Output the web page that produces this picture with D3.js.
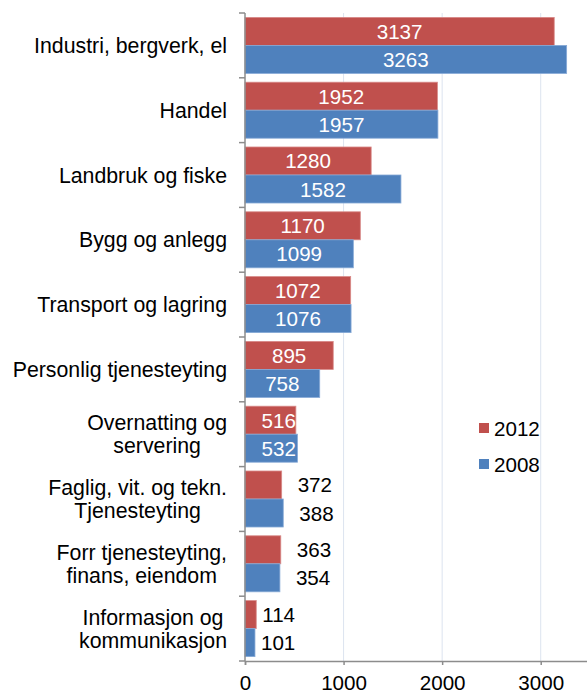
<!DOCTYPE html>
<html>
<head>
<meta charset="utf-8">
<script src="https://cdn.jsdelivr.net/npm/d3@7"></script>
<style>
  body { margin: 0; background: #fff; }
  text { font-family: "Liberation Sans", Arial, sans-serif; }
</style>
</head>
<body>
<div id="chart"></div>
<script>
// categories (top to bottom), each split into display lines
var categories = [
    ["Industri, bergverk, el"],
    ["Handel"],
    ["Landbruk og fiske"],
    ["Bygg og anlegg"],
    ["Transport og lagring"],
    ["Personlig tjenesteyting"],
    ["Overnatting og", "servering"],
    ["Faglig, vit. og tekn.", "Tjenesteyting"],
    ["Forr tjenesteyting,", "finans, eiendom"],
    ["Informasjon og", "kommunikasjon"]
];
var values2012 = [3137, 1952, 1280, 1170, 1072, 895, 516, 372, 363, 114];
var values2008 = [3263, 1957, 1582, 1099, 1076, 758, 532, 388, 354, 101];
var seriesNames = ["2012", "2008"];
var xTicks = [0, 1000, 2000, 3000];

var width = 587, height = 698;
var colors = {"2012": "#C0504D", "2008": "#4F81BD"};
var strokes = {"2012": "#D88A88", "2008": "#86A9D6"};
var fontSize = 20.6;

var svg = d3.select("#chart").append("svg")
    .attr("width", width)
    .attr("height", height);

var keys = categories.map(function(d, i) { return "c" + i; });

var x = d3.scaleLinear().domain([0, 3500]).range([245, 590]);
var y = d3.scaleBand().domain(keys).range([13, 661]);
var ySub = d3.scaleBand().domain(seriesNames).range([0, y.bandwidth()]).paddingOuter(0.157);

var data = [];
keys.forEach(function(k, i) {
    data.push({key: k, series: "2012", value: values2012[i]});
    data.push({key: k, series: "2008", value: values2008[i]});
});

// gridlines
svg.append("g").selectAll("line")
    .data(xTicks.slice(1))
    .enter().append("line")
    .attr("x1", function(d) { return x(d); })
    .attr("x2", function(d) { return x(d); })
    .attr("y1", 13)
    .attr("y2", 661)
    .attr("stroke", "#DCE4EF")
    .attr("stroke-width", 1);

// bars
svg.append("g").selectAll("rect")
    .data(data)
    .enter().append("rect")
    .attr("x", x(0))
    .attr("y", function(d) { return y(d.key) + ySub(d.series); })
    .attr("width", function(d) { return x(d.value) - x(0); })
    .attr("height", ySub.bandwidth())
    .attr("fill", function(d) { return colors[d.series]; })
    .attr("stroke", function(d) { return strokes[d.series]; })
    .attr("stroke-width", 0.8);

// value labels
var labels = svg.append("g").selectAll("text")
    .data(data)
    .enter().append("text")
    .attr("y", function(d) { return y(d.key) + ySub(d.series) + ySub.bandwidth() / 2 + 7.5; })
    .attr("font-size", fontSize)
    .text(function(d) { return d.value; });

labels.each(function(d) {
    var t = d3.select(this);
    var w = this.getComputedTextLength();
    var barW = x(d.value) - x(0);
    if (barW < w + 16) {
        var gap = d.value < 200 ? 6 : 16;
        t.attr("x", x(d.value) + gap).attr("text-anchor", "start").attr("fill", "#000");
    } else {
        var cx = Math.max(x(0) + barW / 2, x(0) + w / 2 + 16.5);
        t.attr("x", cx).attr("text-anchor", "middle").attr("fill", "#fff");
    }
});

// y axis line and ticks
var axisColor = "#8C8C8C";
svg.append("line")
    .attr("x1", x(0)).attr("x2", x(0))
    .attr("y1", 13).attr("y2", 661)
    .attr("stroke", axisColor).attr("stroke-width", 1.5);

svg.append("g").selectAll("line")
    .data(keys.map(function(k) { return y(k); }).concat([661]))
    .enter().append("line")
    .attr("x1", x(0) - 6).attr("x2", x(0))
    .attr("y1", function(d) { return d; })
    .attr("y2", function(d) { return d; })
    .attr("stroke", axisColor).attr("stroke-width", 1.5);

// x axis
var xAxis = svg.append("g")
    .attr("transform", "translate(0,661)")
    .call(d3.axisBottom(x).tickValues(xTicks).tickSize(4).tickPadding(10).tickFormat(d3.format("d")));
xAxis.select(".domain").attr("stroke", axisColor).attr("stroke-width", 1.5);
xAxis.selectAll(".tick line").attr("stroke", axisColor).attr("stroke-width", 1.5);
xAxis.selectAll(".tick text")
    .attr("font-size", fontSize)
    .attr("font-family", "Liberation Sans, Arial, sans-serif")
    .attr("fill", "#000")
    .attr("dy", "0.71em");

// category labels, lines centred on each other, block right-aligned
var catG = svg.append("g");
categories.forEach(function(lines, i) {
    var cy = y(keys[i]) + y.bandwidth() / 2 + 7.5;
    var lh = 22.8;
    var g = catG.append("g");
    var texts = lines.map(function(line, j) {
        return g.append("text")
            .attr("font-size", 21.3)
            .attr("fill", "#000")
            .attr("y", cy + (j - (lines.length - 1) / 2) * lh)
            .attr("text-anchor", "middle")
            .text(line);
    });
    var maxW = d3.max(texts, function(t) { return t.node().getComputedTextLength(); });
    texts.forEach(function(t) { t.attr("x", 227 - maxW / 2); });
});

// legend
var legend = svg.append("g");
seriesNames.forEach(function(s, i) {
    var ly = 423 + i * 36;
    legend.append("rect")
        .attr("x", 479).attr("y", ly)
        .attr("width", 10).attr("height", 10)
        .attr("fill", colors[s]);
    legend.append("text")
        .attr("x", 494).attr("y", ly + 12.5)
        .attr("font-size", fontSize)
        .attr("fill", "#000")
        .text(s);
});
</script>
</body>
</html>
